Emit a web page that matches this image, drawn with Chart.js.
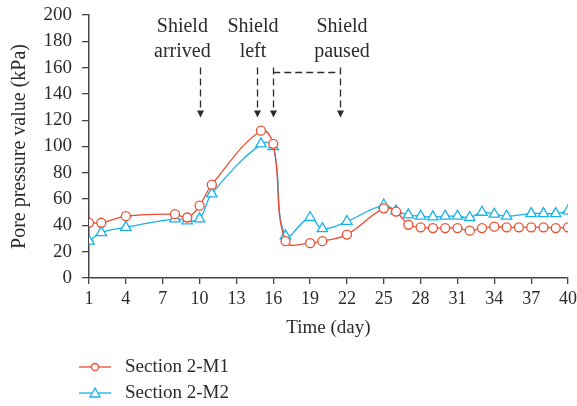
<!DOCTYPE html>
<html>
<head>
<meta charset="utf-8">
<script src="https://cdn.jsdelivr.net/npm/chart.js@4.4.1/dist/chart.umd.min.js"></script>
<style>
  html, body { margin: 0; padding: 0; background: #fff; }
  #wrap { width: 577px; height: 406px; }
</style>
</head>
<body>
<div id="wrap"><canvas id="pressureChart"></canvas></div>
<script>
// Section 2-M1 (circles)
const m1Days = [1, 2, 4, 8, 9, 10, 11, 15, 16, 17, 19, 20, 22, 25, 26, 27, 28, 29, 30, 31, 32, 33, 34, 35, 36, 37, 38, 39, 40];
const m1Values = [42, 42, 47, 48.5, 46, 55, 71, 112, 102, 28, 26.5, 28, 33, 53, 50.5, 40.5, 38.5, 38, 38, 38, 36, 38, 39, 38.5, 38.5, 38.5, 38.5, 38, 38.5];

// Section 2-M2 (triangles)
const m2Days = [1, 2, 4, 8, 9, 10, 11, 15, 16, 17, 19, 20, 22, 25, 26, 27, 28, 29, 30, 31, 32, 33, 34, 35, 37, 38, 39, 40];
const m2Values = [28, 34.5, 38.5, 45, 43.5, 45, 64, 102, 100, 32, 46, 37.5, 43, 55.5, 51, 48, 47, 46.5, 47, 47, 46, 50, 48.5, 47, 49, 49, 49, 51];

const seriesNames = ['Section 2-M1', 'Section 2-M2'];
const xTicks = [1, 4, 7, 10, 13, 16, 19, 22, 25, 28, 31, 34, 37, 40];
const yTicks = [0, 20, 40, 60, 80, 100, 120, 140, 160, 180, 200];

// annotation texts above the curves
const noteLabels = [['Shield', 'arrived'], ['Shield', 'left'], ['Shield', 'paused']];
const noteDays = [8.6, 14.35, 21.6];
const arrowDays = [10, 14.7, 16, 21.4];

const red = '#ee4d32';
const blue = '#18b2e8';
const ink = '#2b2b2b';
const serif = '"Liberation Serif", "Times New Roman", serif';

const toPoints = (days, vals) => days.map((d, i) => ({ x: d, y: vals[i] }));

const overlay = {
  id: 'overlay',
  afterDraw(chart) {
    const ctx = chart.ctx;
    const xs = chart.scales.x, ys = chart.scales.y;
    ctx.save();

    // notes
    ctx.fillStyle = ink;
    ctx.font = '20px ' + serif;
    ctx.textAlign = 'center';
    ctx.textBaseline = 'middle';
    noteLabels.forEach((lines, i) => {
      const cx = xs.getPixelForValue(noteDays[i]);
      ctx.fillText(lines[0], cx, ys.getPixelForValue(191));
      ctx.fillText(lines[1], cx, ys.getPixelForValue(172));
    });

    // dashed arrows
    const top = ys.getPixelForValue(160);
    const tip = ys.getPixelForValue(122);
    ctx.strokeStyle = ink;
    ctx.lineWidth = 1.3;
    ctx.setLineDash([7, 4]);
    arrowDays.forEach(d => {
      const ax = Math.round(xs.getPixelForValue(d)) + 0.5;
      ctx.beginPath();
      ctx.moveTo(ax, top);
      ctx.lineTo(ax, tip - 6);
      ctx.stroke();
    });
    const hy = Math.round(ys.getPixelForValue(157)) + 0.5;
    ctx.beginPath();
    ctx.moveTo(xs.getPixelForValue(16), hy);
    ctx.lineTo(xs.getPixelForValue(21.4), hy);
    ctx.stroke();
    ctx.setLineDash([]);
    ctx.fillStyle = ink;
    arrowDays.forEach(d => {
      const ax = Math.round(xs.getPixelForValue(d)) + 0.5;
      ctx.beginPath();
      ctx.moveTo(ax - 3.5, tip - 7);
      ctx.lineTo(ax + 3.5, tip - 7);
      ctx.lineTo(ax, tip);
      ctx.closePath();
      ctx.fill();
    });

    // legend
    const rows = [chart.height - 39, chart.height - 13];
    ctx.font = '19px ' + serif;
    ctx.textAlign = 'left';
    chart.data.datasets.forEach((ds, i) => {
      const ly = rows[i];
      ctx.strokeStyle = ds.borderColor;
      ctx.lineWidth = 1.3;
      ctx.beginPath();
      ctx.moveTo(79, ly);
      ctx.lineTo(111, ly);
      ctx.stroke();
      ctx.fillStyle = '#fff';
      ctx.beginPath();
      if (ds.pointStyle === 'triangle') {
        ctx.moveTo(95, ly - 5);
        ctx.lineTo(100, ly + 4);
        ctx.lineTo(90, ly + 4);
        ctx.closePath();
      } else {
        ctx.arc(95, ly, 3.5, 0, Math.PI * 2);
      }
      ctx.fill();
      ctx.stroke();
      ctx.fillStyle = ink;
      ctx.fillText(ds.label, 125, ly);
    });
    ctx.restore();
  }
};

new Chart(document.getElementById('pressureChart').getContext('2d'), {
  type: 'line',
  data: {
    datasets: [{
      label: seriesNames[0],
      data: toPoints(m1Days, m1Values),
      borderColor: red,
      backgroundColor: '#fff',
      borderWidth: 1.3,
      tension: 0.4,
      pointStyle: 'circle',
      pointRadius: 4.5,
      pointBorderWidth: 1.3,
      pointBackgroundColor: '#fff',
      pointBorderColor: red
    }, {
      label: seriesNames[1],
      data: toPoints(m2Days, m2Values),
      borderColor: blue,
      backgroundColor: '#fff',
      borderWidth: 1.3,
      tension: 0.4,
      pointStyle: 'triangle',
      pointRadius: 6,
      pointBorderWidth: 1.3,
      pointBackgroundColor: '#fff',
      pointBorderColor: blue
    }]
  },
  options: {
    responsive: true,
    maintainAspectRatio: false,
    animation: false,
    layout: { padding: { top: 15, right: 9, bottom: 64, left: 0 } },
    plugins: {
      legend: { display: false },
      tooltip: { enabled: false }
    },
    scales: {
      x: {
        type: 'linear',
        min: 1,
        max: 40,
        afterBuildTicks: s => { s.ticks = xTicks.map(v => ({ value: v })); },
        afterFit: s => { s.height = 64; s.paddingLeft = 0; s.paddingRight = 0; },
        grid: { drawOnChartArea: false, color: '#444', tickLength: 6, lineWidth: 1.3 },
        border: { color: '#444', width: 1.5 },
        ticks: { color: ink, font: { family: serif, size: 18 }, padding: 4, maxRotation: 0, autoSkip: false },
        title: { display: true, text: 'Time (day)', color: ink, font: { family: serif, size: 19 }, padding: { top: 0, bottom: 3 } }
      },
      y: {
        min: 0,
        max: 200,
        afterBuildTicks: s => { s.ticks = yTicks.map(v => ({ value: v })); },
        afterFit: s => { s.width = 89; s.paddingTop = 0; s.paddingBottom = 0; },
        grid: { drawOnChartArea: false, color: '#444', tickLength: 7, lineWidth: 1.3 },
        border: { color: '#444', width: 1.5 },
        ticks: { color: ink, font: { family: serif, size: 19 }, padding: 10, autoSkip: false },
        title: { display: true, text: 'Pore pressure value (kPa)', color: ink, font: { family: serif, size: 20 }, padding: { top: 8, bottom: 0 } }
      }
    }
  },
  plugins: [overlay]
});
</script>
</body>
</html>
